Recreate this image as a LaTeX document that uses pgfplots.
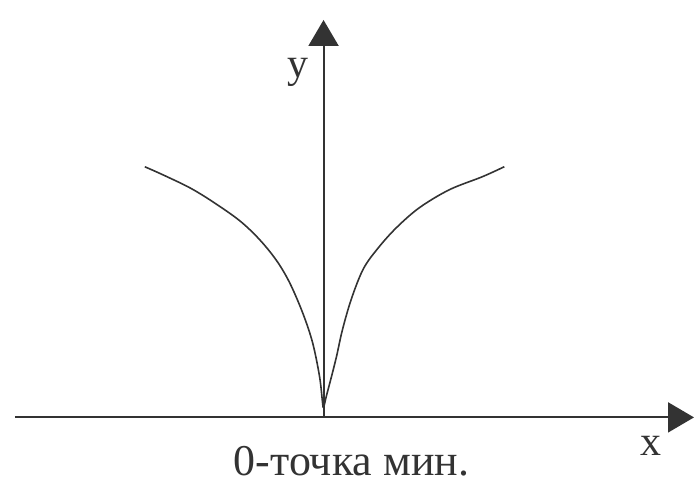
\documentclass[border=0pt]{standalone}
\usepackage{fontspec}
\setmainfont{Liberation Serif}
\usepackage{pgfplots}
\pgfplotsset{compat=1.18}
\usetikzlibrary{arrows.meta}
\definecolor{ink}{HTML}{333333}
\begin{document}
\begin{tikzpicture}
\begin{axis}[
    x=0.5pt, y=0.5pt,
    xmin=-309, xmax=371,
    ymin=0, ymax=398,
    enlargelimits=false,
    axis lines=middle,
    axis line style={ink, line width=1pt, -{Triangle[width=15pt,length=13pt]}},
    xtick=\empty, ytick=\empty,
    clip=false,
]
\addplot[ink, line width=0.8pt, smooth, tension=0.55] coordinates {
(-179,251) (-161,243) (-134,230) (-111,216) (-84,197) (-64,178)
(-47,157) (-34,135) (-21,105) (-11,75) (-4,41) (-1,15) (0,10)
(3,22) (8,41) (13,61) (19,88) (28,119) (40,149) (55,170) (73,190) (96,210)
(126,228) (159,241) (181,251)
};
\node[ink, font=\fontsize{21}{25}\selectfont] at (axis cs:-26,345) {y};
\node[ink, font=\fontsize{21}{25}\selectfont] at (axis cs:328,-29) {x};
\node[ink, font=\fontsize{22}{26}\selectfont] at (axis cs:28,-44) {0-точка мин.};
\path (axis cs:-324,-59) (axis cs:371,418);
\end{axis}
\end{tikzpicture}
\end{document}
